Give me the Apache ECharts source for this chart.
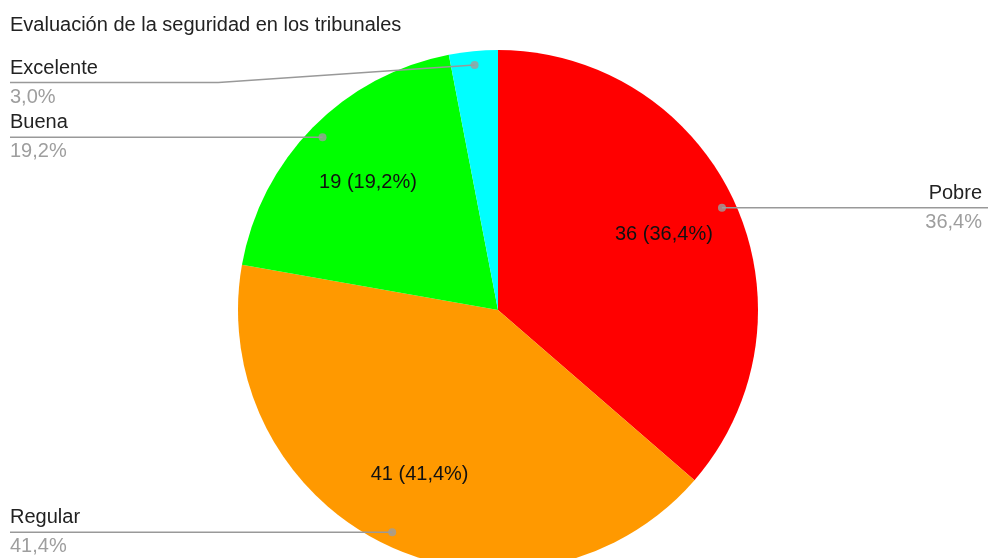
<!DOCTYPE html>
<html><head><meta charset="utf-8">
<script src="https://cdn.jsdelivr.net/npm/echarts@6/dist/echarts.min.js"></script>
<style>html,body{margin:0;padding:0;background:#fff}#c{width:988px;height:558px}</style>
</head><body><div id="c"></div>
<script>
var titleText = 'Evaluación de la seguridad en los tribunales';
var categories = ['Pobre', 'Regular', 'Buena', 'Excelente'];
var values = [36, 41, 19, 3];
var colors = ['#ff0000', '#ff9900', '#00ff00', '#00ffff'];

var FONT = '"Liberation Sans", Arial, sans-serif';
var FS = 20;
var total = values.reduce(function (a, b) { return a + b; }, 0);
function pct(i) { return (values[i] / total * 100).toFixed(1).replace('.', ','); }
var center = [498, 310];
var R = 260;
var DOT = 0.947;
var MIN_LABEL_TOP = 58;
var midAngles = [];
var acc = 0;
values.forEach(function (v) { midAngles.push(acc + v / 2); acc += v; });

var chart = echarts.init(document.getElementById('c'));
var TRANSP = 'rgba(0,0,0,0)';
function overlayData(withEdge) {
  return categories.map(function (n, i) {
    var d = { name: n, value: values[i], itemStyle: { color: TRANSP } };
    if (withEdge && i === 0) d.label = { edgeDistance: 6 };
    return d;
  });
}
var option = {
  animation: false,
  title: { text: titleText, left: 5, top: 10, textStyle: { fontFamily: FONT, fontSize: FS, fontWeight: 'normal', color: '#222' } },
  polar: { center: center, radius: R },
  angleAxis: { type: 'value', min: 0, max: total, startAngle: 90, clockwise: true, show: false },
  radiusAxis: { type: 'value', min: 0, max: 1, show: false },
  series: [
    {
      type: 'pie', center: center, radius: [0, R], startAngle: 90, silent: true, z: 1,
      emphasis: { disabled: true },
      data: categories.map(function (n, i) { return { name: n, value: values[i], itemStyle: { color: colors[i] } }; }),
      label: { show: false }, labelLine: { show: false }
    },
    {
      type: 'pie', center: center, radius: [R * 0.38, R], startAngle: 90, silent: true, z: 2,
      emphasis: { disabled: true }, minShowLabelAngle: 15,
      data: overlayData(false),
      label: {
        show: true, position: 'inside', fontFamily: FONT, fontSize: FS, color: '#111',
        formatter: function (p) { return p.value + ' (' + pct(p.dataIndex) + '%)'; }
      },
      labelLine: { show: false }
    },
    {
      type: 'pie', center: center, radius: [0, R * DOT], startAngle: 90, silent: true, z: 3,
      emphasis: { disabled: true },
      data: overlayData(true),
      label: {
        show: true, position: 'outside', alignTo: 'edge', edgeDistance: 10,
        formatter: function (p) { return '{n|' + p.name + '}\n{p|' + pct(p.dataIndex) + '%}'; },
        rich: {
          n: { fontFamily: FONT, fontSize: FS, color: '#222', lineHeight: 29 },
          p: { fontFamily: FONT, fontSize: FS, color: '#9e9e9e', lineHeight: 29 }
        }
      },
      labelLine: { show: true, length: 0, length2: 0, lineStyle: { color: '#999', width: 1.5 } },
      labelLayout: function (p) {
        var pts = p.labelLinePoints;
        if (!pts) return {};
        var r = p.labelRect;
        var shift = Math.max(0, MIN_LABEL_TOP - r.y);
        var y = r.y + shift + r.height / 2;
        var isLeft = r.x + r.width / 2 < center[0];
        var inner = isLeft ? r.x + r.width : r.x;
        var outer = isLeft ? r.x : chart.getWidth();
        var start = [pts[0][0], pts[0][1]];
        var bend = shift > 0 ? inner + (start[0] - inner) * 0.32 : inner;
        var out = { labelLinePoints: [start, [bend, y], [outer, y]] };
        if (shift > 0) out.dy = shift;
        return out;
      }
    },
    {
      type: 'scatter', coordinateSystem: 'polar', silent: true, z: 4,
      symbol: 'circle', symbolSize: 8, itemStyle: { color: '#9e9e9e' },
      data: midAngles.map(function (a) { return [DOT, a]; })
    }
  ]
};
chart.setOption(option);
</script>
</body></html>
